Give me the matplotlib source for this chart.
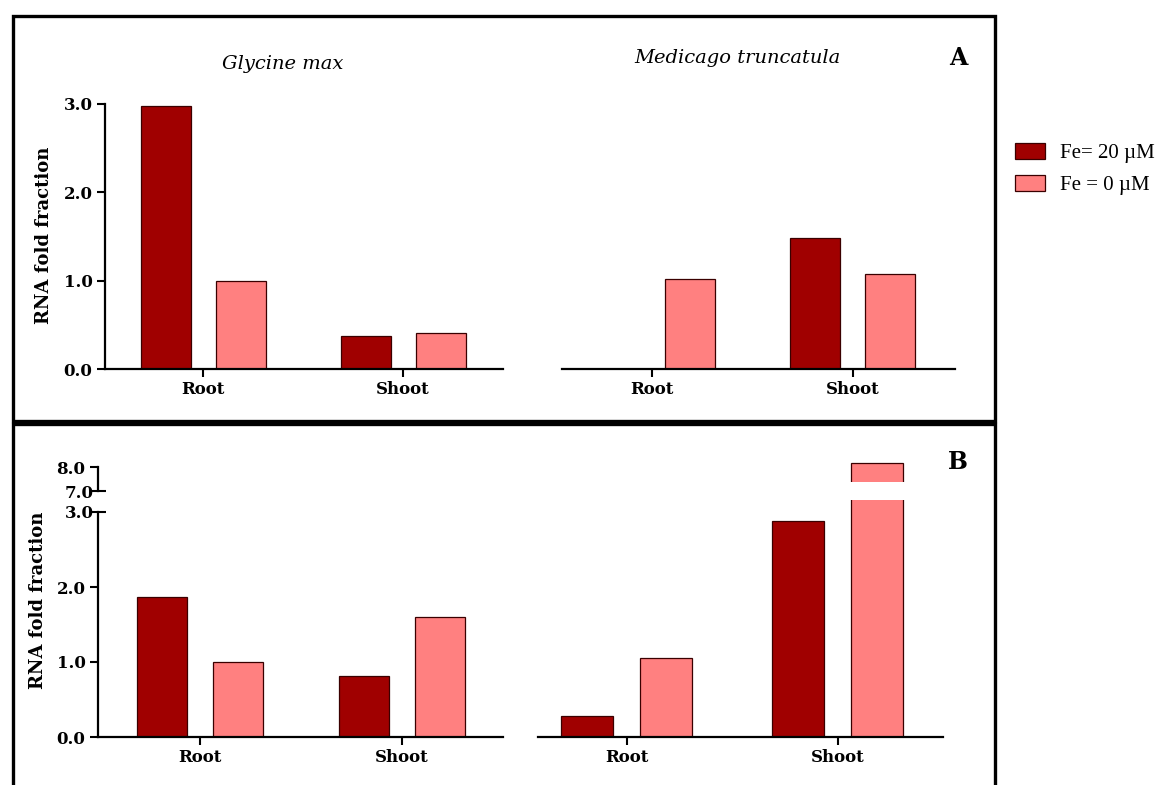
import numpy as np
import matplotlib
matplotlib.use('Agg')
import matplotlib.pyplot as plt
from matplotlib.patches import Rectangle, Patch
from matplotlib.ticker import FixedLocator, FixedFormatter

# data
tissues = ['Root', 'Shoot']
series_labels = ['Fe= 20 \u00b5M', 'Fe = 0 \u00b5M']
colors = ['#A00000', '#FF8080']

# panel A: RNA fold fraction
gm_a_fe20 = [2.98, 0.37]
gm_a_fe0 = [1.00, 0.41]
mt_a_fe20 = [0.0, 1.48]
mt_a_fe0 = [1.02, 1.07]

# panel B
gm_b_fe20 = [1.87, 0.81]
gm_b_fe0 = [1.00, 1.60]
mt_b_fe20 = [0.28, 2.88]
mt_b_fe0 = [1.06, 8.17]

plt.rcParams['font.family'] = ['DejaVu Serif']
plt.rcParams['font.weight'] = 'bold'

W, H = 1161, 785
fig = plt.figure(figsize=(W / 100, H / 100), dpi=100)


def px_ax(x0, x1, y_top, y_bot):
    return fig.add_axes([x0 / W, 1 - y_bot / H, (x1 - x0) / W, (y_bot - y_top) / H])


def bars(ax, fe20, fe0, off=0.1875, width=0.25):
    x = np.arange(len(tissues))
    ax.bar(x - off, fe20, width, color=colors[0], edgecolor='#3a0000', linewidth=0.9)
    ax.bar(x + off, fe0, width, color=colors[1], edgecolor='#3a0000', linewidth=0.9)


def style(ax, show_y=True, show_x=True):
    for s in ['top', 'right']:
        ax.spines[s].set_visible(False)
    ax.spines['left'].set_visible(show_y)
    ax.spines['bottom'].set_visible(show_x)
    for s in ['left', 'bottom']:
        ax.spines[s].set_linewidth(1.6)
    ax.tick_params(which='both', width=1.5, length=6, labelsize=12, pad=3)
    if show_x:
        ax.set_xticks(range(len(tissues)))
        ax.set_xticklabels(tissues, fontsize=12, fontweight='bold')
    else:
        ax.set_xticks([])
    if not show_y:
        ax.set_yticks([])


def yfmt(ax, major, minor=None):
    ax.yaxis.set_major_locator(FixedLocator(major))
    ax.yaxis.set_major_formatter(FixedFormatter(['%.1f' % v for v in major]))
    if minor:
        ax.yaxis.set_minor_locator(FixedLocator(minor))
        ax.yaxis.set_minor_formatter(FixedFormatter(['%.1f' % v for v in minor]))
        ax.tick_params(axis='y', which='minor', direction='inout', length=12,
                       width=1.5, labelsize=12, pad=-3)
    for lab in ax.get_yticklabels(which='both'):
        lab.set_fontweight('bold')


# ---- panel A ----
ax1 = px_ax(105, 503, 104, 369)
bars(ax1, gm_a_fe20, gm_a_fe0)
ax1.set_xlim(-0.49, 1.5)
ax1.set_ylim(0, 3)
style(ax1)
yfmt(ax1, [0, 1, 2, 3])

ax2 = px_ax(562, 955, 104, 369)
bars(ax2, mt_a_fe20, mt_a_fe0)
ax2.set_xlim(-0.45, 1.51)
ax2.set_ylim(0, 3)
style(ax2, show_y=False)

# ---- panel B (broken y axis) ----
ax3 = px_ax(98, 503, 512, 737)
bars(ax3, gm_b_fe20, gm_b_fe0)
ax3.set_xlim(-0.505, 1.5)
ax3.set_ylim(0, 3)
style(ax3)
yfmt(ax3, [0, 1, 2], [3])

ax3u = px_ax(98, 503, 467, 491)
bars(ax3u, gm_b_fe20, gm_b_fe0)
ax3u.set_xlim(-0.505, 1.5)
ax3u.set_ylim(7, 8)
style(ax3u, show_x=False)
yfmt(ax3u, [8], [7])

ax4 = px_ax(538, 943, 500, 737)
bars(ax4, mt_b_fe20, mt_b_fe0, off=0.1876, width=0.247)
ax4.set_xlim(-0.42, 1.5)
ax4.set_ylim(0, (737 - 500) / 75)
style(ax4, show_y=False)

ax4u = px_ax(538, 943, 455, 482)
bars(ax4u, mt_b_fe20, mt_b_fe0, off=0.1876, width=0.247)
ax4u.set_xlim(-0.42, 1.5)
ax4u.set_ylim(7 + (491 - 482) / 24, 7 + (491 - 455) / 24)
ax4u.axis('off')

# titles, panel letters, axis labels
fig.text(283 / W, 1 - 64 / H, 'Glycine max', style='italic', fontweight='normal',
         fontsize=14, ha='center', va='center')
fig.text(737 / W, 1 - 58 / H, 'Medicago truncatula', style='italic', fontweight='normal',
         fontsize=14, ha='center', va='center')
fig.text(958 / W, 1 - 58 / H, 'A', fontsize=17, ha='center', va='center')
fig.text(958 / W, 1 - 462 / H, 'B', fontsize=17, ha='center', va='center')
fig.text(44 / W, 1 - 235 / H, 'RNA fold fraction', rotation=90, fontsize=13,
         ha='center', va='center')
fig.text(38 / W, 1 - 600 / H, 'RNA fold fraction', rotation=90, fontsize=13,
         ha='center', va='center')

# frames around the panels
fig.patches.append(Rectangle((13 / W, 1 - 421 / H), 982 / W, 405 / H, fill=False,
                             lw=2.4, ec='black', transform=fig.transFigure, figure=fig))
fig.patches.append(Rectangle((13 / W, 1 - 800 / H), 982 / W, 376 / H, fill=False,
                             lw=2.4, ec='black', transform=fig.transFigure, figure=fig,
                             clip_on=False))

handles = [Patch(facecolor=c, edgecolor='#3a0000', linewidth=0.9) for c in colors]
fig.legend(handles, series_labels, loc='upper left',
           bbox_to_anchor=(1015 / W, 1 - 143 / H), frameon=False,
           prop={'family': 'Liberation Serif', 'weight': 'normal', 'size': 15},
           handlelength=1.45, handleheight=0.82, labelspacing=0.55,
           handletextpad=0.72, borderpad=0, borderaxespad=0)

fig.savefig('out.png', dpi=100)
